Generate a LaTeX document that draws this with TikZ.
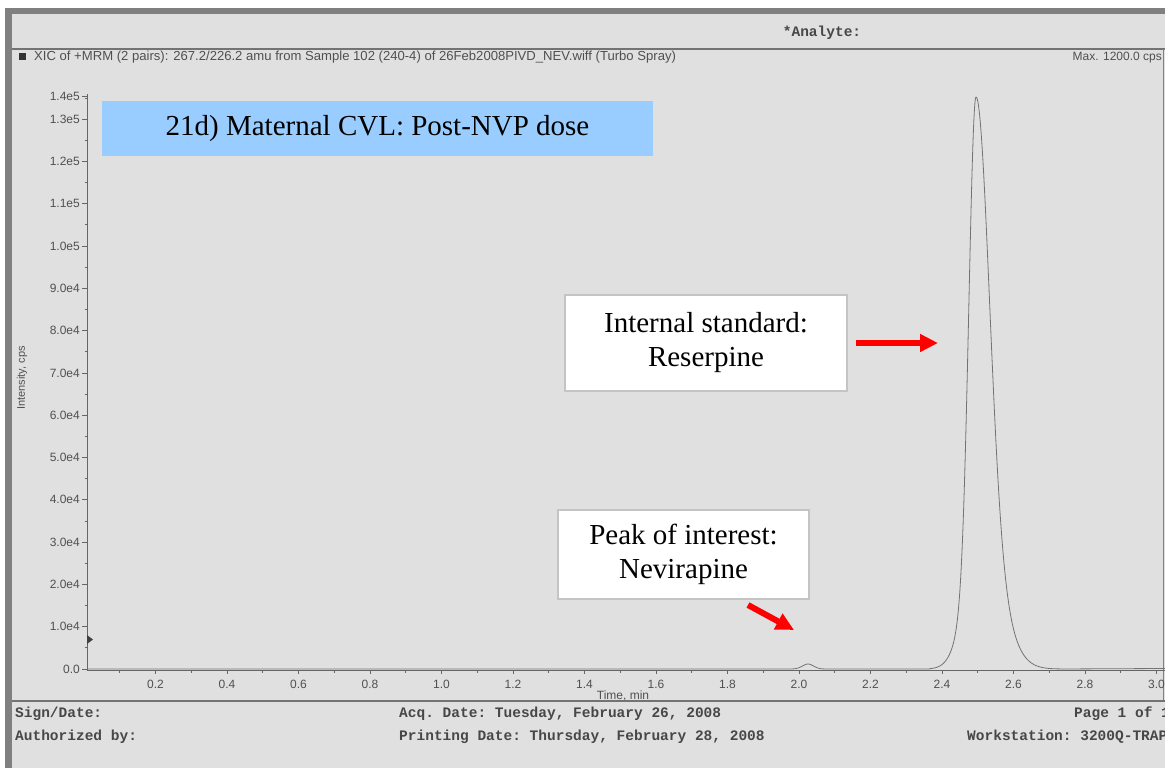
\documentclass[tikz,border=0pt]{standalone}
\usepackage{fontspec}
\setmainfont{Liberation Serif}
\setsansfont{Liberation Sans}
\setmonofont{Liberation Mono}
\usetikzlibrary{arrows.meta}
\definecolor{bg}{HTML}{E0E0E0}
\definecolor{band}{HTML}{808080}
\definecolor{titleblue}{HTML}{99CCFF}
\definecolor{ink}{HTML}{505050}
\definecolor{boxedge}{HTML}{C4C4C4}
\definecolor{arrowred}{HTML}{FF0000}
\tikzset{
  lbl/.style={font=\sffamily\fontsize{12}{14}\selectfont, text=ink, inner sep=0pt},
  ylbl/.style={lbl, anchor=east},
  xlbl/.style={lbl, anchor=center},
  mono/.style={font=\ttfamily\bfseries\fontsize{14.5}{16}\selectfont, text=black!72, inner sep=0pt, anchor=base west},
  callout/.style={draw=boxedge, line width=1.5pt, fill=white, font=\fontsize{29}{34}\selectfont, align=center, inner sep=0pt},
  redarrow/.style={draw=arrowred, line width=6pt, -{Triangle[length=18pt,width=17pt]}},
  trace/.style={draw=black!55, line width=0.8pt},
  axisline/.style={draw=black!60, line width=0.8pt},
}
\begin{document}
\begin{tikzpicture}[x=1pt,y=-1pt]
\useasboundingbox (0,0) rectangle (1165,768);
\clip (0,0) rectangle (1165,768);
% page
\fill[white] (0,0) rectangle (1165,768);
\fill[bg] (5,8) rectangle (1165,768);
\fill[band] (5,8) rectangle (1165,14);
\fill[band] (5,8) rectangle (12,768);
% header
\node[mono, anchor=base] (analyte) at (822,37) {*Analyte:};
\draw[black!55, line width=1.3pt] (12,49) -- (1165,49);
\fill[black!80] (19,53) rectangle (26,60);
\node[lbl, anchor=base west, font=\sffamily\fontsize{13.1}{15}\selectfont] (xic) at (34,61) {XIC of +MRM (2 pairs): 267.2/226.2 amu from Sample 102 (240-4) of 26Feb2008PIVD\_NEV.wiff (Turbo Spray)};
\node[lbl, anchor=base east] (max) at (1162,61) {Max. 1200.0 cps};
\draw[black!50, line width=0.8pt] (1163,49) -- (1163,701);
% y axis
\draw[axisline] (87,94) -- (87,670);
\foreach \k/\lab in {0/0.0,1/1.0e4,2/2.0e4,3/3.0e4,4/4.0e4,5/5.0e4,6/6.0e4,7/7.0e4,8/8.0e4,9/9.0e4,10/1.0e5,11/1.1e5,12/1.2e5,13/1.3e5}{
  \node[ylbl] (yl\k) at (80,{669-42.3*\k}) {\lab};
  \draw[axisline] (82,{669-42.3*\k}) -- (87,{669-42.3*\k});
  \draw[axisline] (84.5,{669-42.3*\k-21.15}) -- (87,{669-42.3*\k-21.15});
}
\node[ylbl] (yl14) at (80,96) {1.4e5};
\draw[axisline] (82,96) -- (87,96);
\node[lbl, rotate=90] (ytitle) at (22,378) {\fontsize{11}{13}\selectfont Intensity, cps};
\fill[black!75] (87,635) -- (93,639.5) -- (87,644) -- cycle;
% x axis
\draw[axisline] (87,670) -- (1165,670);
\foreach \i/\lab in {1/0.2,2/0.4,3/0.6,4/0.8,5/1.0,6/1.2,7/1.4,8/1.6,9/1.8,10/2.0,11/2.2,12/2.4,13/2.6,14/2.8,15/3.0}{
  \node[xlbl] (xl\i) at ({84+71.5*\i},684) {\lab};
  \draw[axisline] ({84+71.5*\i},670) -- ({84+71.5*\i},674);
  \draw[axisline] ({84+71.5*\i-35.75},670) -- ({84+71.5*\i-35.75},672.5);
}
\node[lbl, anchor=center] (xtitle) at (623,696) {Time, min};
% trace
\draw[trace] (88,669) -- (790,669)
  -- plot[domain=790:830, samples=40] (\x, {669-5*exp(-((\x-808)*(\x-808))/60)})
  -- (930,669)
  -- plot[domain=930:976, samples=90] (\x, {669-572*(0.85*exp(-((\x-976)*(\x-976))/98)+0.15*exp(-((\x-976)*(\x-976))/392))})
  -- plot[domain=976:1065, samples=150] (\x, {669-572*(0.75*exp(-((\x-976)*(\x-976))/338)+0.25*exp(-((\x-976)*(\x-976))/968))})
  -- (1165,668.5);
% footer
\draw[black!55, line width=2pt] (12,701) -- (1165,701);
\node[mono] (sign) at (15,717) {Sign/Date:};
\node[mono] (acq) at (399,717) {Acq. Date: Tuesday, February 26, 2008};
\node[mono] (page) at (1074,717) {Page 1 of 1};
\node[mono] (auth) at (15,740) {Authorized by:};
\node[mono] (print) at (399,740) {Printing Date: Thursday, February 28, 2008};
\node[mono] (work) at (967,740) {Workstation: 3200Q-TRAP};
% annotations
\node[fill=titleblue, minimum width=551pt, minimum height=55pt, inner sep=0pt, font=\fontsize{29}{34}\selectfont] (title) at (377.5,128.5) {21d) Maternal CVL: Post-NVP dose};
\node[callout, minimum width=282pt, minimum height=96pt] (isbox) at (706,343) {Internal standard:\\Reserpine};
\node[callout, minimum width=251pt, minimum height=89pt] (pkbox) at (683.5,554.5) {Peak of interest:\\Nevirapine};
\coordinate (a1e) at (938,343);
\coordinate (a2s) at (748,605);
\coordinate (a2e) at (794,630);
\draw[redarrow, shorten <=8pt] (isbox.east) -- (a1e);
\draw[redarrow] (a2s) -- (a2e);
\end{tikzpicture}
\end{document}
